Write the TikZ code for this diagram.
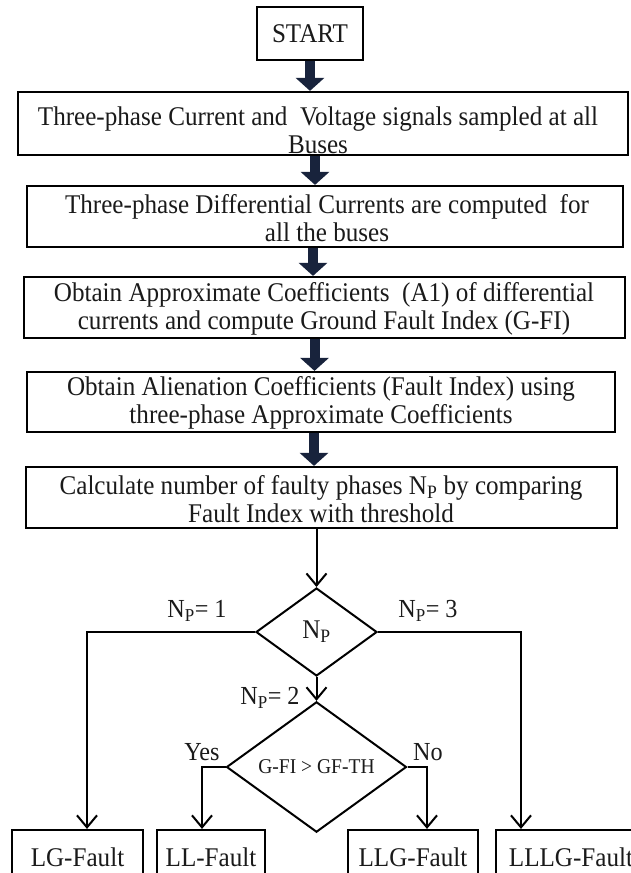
\documentclass[tikz,border=0pt]{standalone}
\usepackage{fontspec}
\setmainfont[FakeStretch=0.93]{Liberation Serif}
\usetikzlibrary{arrows.meta,shapes.geometric,calc}
\definecolor{navy}{HTML}{18233C}
\definecolor{ink}{HTML}{1A1A1A}
\begin{document}
\begin{tikzpicture}[x=1pt,y=-1pt,
  procbox/.style={draw=black, line width=2.2pt, inner sep=0pt},
  boxtext/.style={align=center, text=ink, inner sep=0pt,
    font=\fontsize{27}{28}\selectfont},
  leaf/.style={procbox, minimum height=54pt, text=ink,
    font=\fontsize{27}{28}\selectfont},
  decision/.style={draw=black, diamond, line width=2pt, inner sep=0pt, text=ink},
  lbl/.style={text=ink, inner sep=0pt, font=\fontsize{26}{28}\selectfont},
  bigarrow/.style={draw=navy, line width=10pt,
    -{Triangle[width=28pt,length=13pt,fill=navy]}},
  flow/.style={draw=black, line width=2pt,
    -{Straight Barb[length=12pt,width=20pt]}}
]
\useasboundingbox (0,0) rectangle (631,873);
\fill[white] (0,0) rectangle (631,873);
\clip (0,0) rectangle (631,873);

% start terminal
\node[procbox, minimum width=106pt, minimum height=53pt, text=ink,
      font=\fontsize{27}{28}\selectfont] (start) at (310,33.5) {START};

% process boxes
\node[procbox, minimum width=610pt, minimum height=63pt] (b1) at (323,123.5) {};
\node[boxtext] (t1) at (318,130) {Three-phase Current and \ Voltage signals sampled at all\\Buses};

\node[procbox, minimum width=596pt, minimum height=61pt] (b2) at (325,216.5) {};
\node[boxtext] (t2) at (327,218.5) {Three-phase Differential Currents are computed \ for\\all the buses};

\node[procbox, minimum width=601pt, minimum height=61pt] (b3) at (324.5,307.5) {};
\node[boxtext] (t3) at (324,309) {Obtain Approximate Coefficients \ (A1) of differential\\currents and compute Ground Fault Index (G-FI)};

\node[procbox, minimum width=588pt, minimum height=60pt] (b4) at (321,402) {};
\node[boxtext] (t4) at (321,403) {Obtain Alienation Coefficients (Fault Index) using\\three-phase Approximate Coefficients};

\node[procbox, minimum width=591pt, minimum height=61pt] (b5) at (321.5,497.5) {};
\node[boxtext] (t5) at (321,499) {Calculate number of faulty phases N\textsubscript{P} by comparing\\Fault Index with threshold};

% thick arrows between the process steps
\draw[bigarrow] (start.south) -- (b1.north -| start.south);
\draw[bigarrow] ([xshift=-8pt]b1.south) -- ([xshift=-8pt]b1.south |- b2.north);
\draw[bigarrow] ([xshift=-12pt]b2.south) -- ([xshift=-12pt]b2.south |- b3.north);
\draw[bigarrow] ([xshift=-10pt]b3.south) -- ([xshift=-10pt]b3.south |- b4.north);
\draw[bigarrow] ([xshift=-7pt]b4.south) -- ([xshift=-7pt]b4.south |- b5.north);

% decisions
\node[decision, minimum width=121pt, minimum height=88pt,
      font=\fontsize{27}{28}\selectfont] (d1) at (316.5,632) {N\textsubscript{P}};
\node[decision, minimum width=180pt, minimum height=86pt,
      font=\fontsize{21}{22}\selectfont] (d2) at (316.5,767) {G-FI > GF-TH};

% fault classes
\node[leaf, minimum width=131pt] (lg)   at (77.5,857) {LG-Fault};
\node[leaf, minimum width=108pt] (ll)   at (211,857)  {LL-Fault};
\node[leaf, minimum width=130pt] (llg)  at (413,857)  {LLG-Fault};
\node[leaf, minimum width=150pt] (lllg) at (571,857)  {LLLG-Fault};

% connectors
\draw[flow] (b5.south -| d1.north) -- (d1.north);
\draw[flow] (d1.west) -| ([xshift=9.5pt]lg.north);
\draw[flow] (d1.east) -| ([xshift=-50pt]lllg.north);
\draw[flow] (d1.south) -- (d2.north);
\draw[flow] (d2.west) -| ([xshift=-9pt]ll.north);
\draw[flow] (d2.east) -| ([xshift=14pt]llg.north);

% branch labels
\node[lbl] (n1) at (197,611) {N\textsubscript{P}= 1};
\node[lbl] (n3) at (428,611) {N\textsubscript{P}= 3};
\node[lbl] (n2) at (270,698) {N\textsubscript{P}= 2};
\node[lbl] (yes) at (202,752) {Yes};
\node[lbl] (no) at (428,752) {No};
\end{tikzpicture}
\end{document}
